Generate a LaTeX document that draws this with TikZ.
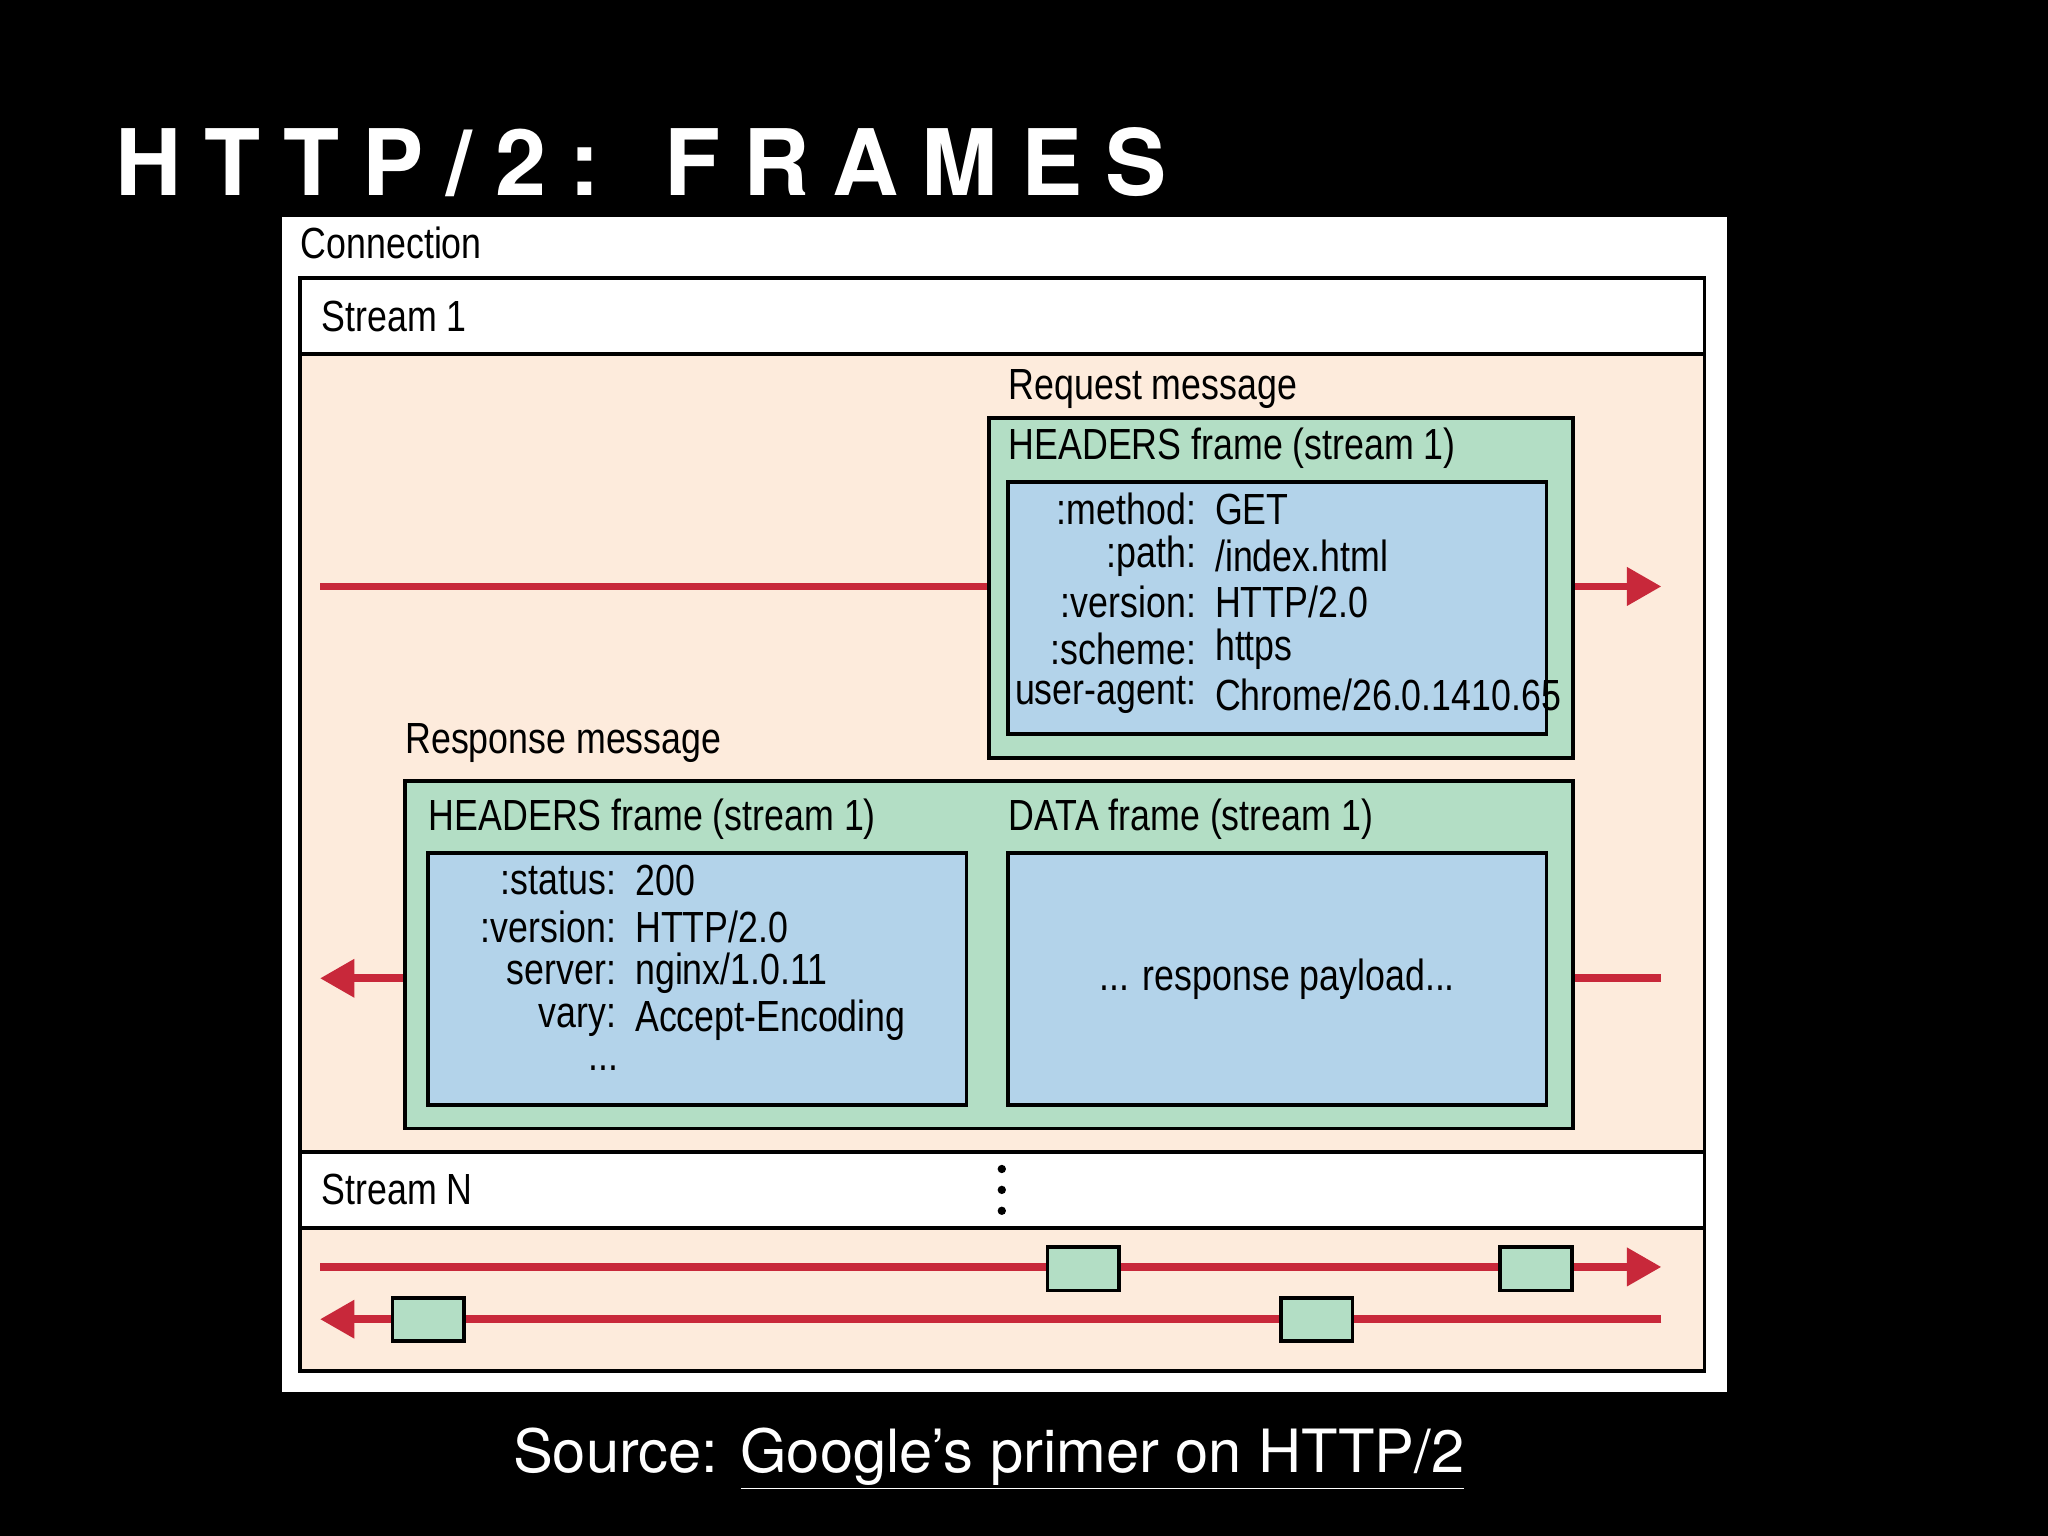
\documentclass[tikz,border=0pt]{standalone}
\usepackage{fontspec}
\setmainfont[FakeStretch=0.82]{Liberation Sans}
\newfontfamily\titlefont[LetterSpace=25]{TeX Gyre Heros}
\newfontfamily\srcfont{TeX Gyre Heros}
\usetikzlibrary{arrows.meta}
\definecolor{peach}{HTML}{FDEBDC}
\definecolor{grn}{HTML}{B3DEC5}
\definecolor{blu}{HTML}{B3D3EA}
\definecolor{rd}{HTML}{C8283A}
\tikzset{
 bx/.style={draw=black,line width=1.7pt},
 lbl/.style={anchor=west,inner sep=0pt,font=\fontsize{19}{21}\selectfont},
 key/.style={anchor=east,inner sep=0pt,font=\fontsize{19}{21}\selectfont},
 val/.style={anchor=west,inner sep=0pt,font=\fontsize{19}{21}\selectfont},
 rl/.style={draw=rd,line width=3.4pt},
 ra/.style={rl,-{Triangle[length=15pt,width=16pt]}},
 mini/.style={bx,fill=grn,minimum width=55*0.02cm,minimum height=33*0.02cm,inner sep=0pt}
}
\begin{document}
\begin{tikzpicture}[x=0.02cm,y=-0.02cm]
\fill[black] (0,0) rectangle (1568,1176);
\useasboundingbox (0,0) rectangle (1568,1176);
\node[anchor=base west,inner sep=0pt,text=white,font=\titlefont\bfseries\fontsize{40}{44}\selectfont] (title) at (88,150) {HTTP/2: FRAMES};
\fill[white] (216,166) rectangle (1322,1066);
\node[lbl] (conn) at (230,186) {Connection};
\fill[peach] (230,271) rectangle (1305,882);
\fill[peach] (230,940) rectangle (1305,1050);
\draw[bx] (230,213) rectangle (1305,1050);
\draw[bx] (230,271) -- (1305,271);
\draw[bx] (230,882) -- (1305,882);
\draw[bx] (230,940) -- (1305,940);
\node[lbl] (s1) at (246,242) {Stream 1};
\node[lbl] (sn) at (246,911) {Stream N};
\foreach \yy in {895,911,927} \fill (767,\yy) circle (3.2);
% request
\node[lbl] (reql) at (772,298) {Request message};
\node[bx,fill=grn,minimum width=447*0.02cm,minimum height=260*0.02cm,inner sep=0pt] (reqg) at (980.5,450) {};
\node[lbl] at (772,343) {HEADERS frame (stream 1)};
\node[bx,fill=blu,minimum width=412*0.02cm,minimum height=193*0.02cm,inner sep=0pt] (reqb) at (978,465.5) {};
\foreach \k/\v/\yy in {:method:/GET/390, :path:/{\slash index.html}/426, :version:/{HTTP\slash 2.0}/461, :scheme:/https/497, user-agent:/{Chrome\slash 26.0.1410.65}/532}
 {\node[key] at (916,\yy) {\k}; \node[val] at (930,\yy) {\v};}
\coordinate (r1a) at (245,449);
\coordinate (r1b) at (1272,449);
\draw[rl] (r1a) -- (reqg.west |- r1a);
\draw[ra] (reqg.east |- r1a) -- (r1b);
% response
\node[lbl] (resl) at (310,569) {Response message};
\node[bx,fill=grn,minimum width=894*0.02cm,minimum height=266*0.02cm,inner sep=0pt] (resg) at (757,731) {};
\node[lbl] at (328,627) {HEADERS frame (stream 1)};
\node[lbl] at (772,627) {DATA frame (stream 1)};
\node[bx,fill=blu,minimum width=412*0.02cm,minimum height=193*0.02cm,inner sep=0pt] (resb1) at (534,749.5) {};
\node[bx,fill=blu,minimum width=412*0.02cm,minimum height=193*0.02cm,inner sep=0pt,font=\fontsize{19}{21}\selectfont] (resb2) at (978,749.5) {... response payload...};
\foreach \k/\v/\yy in {:status:/200/674, :version:/{HTTP\slash 2.0}/710, server:/{nginx\slash 1.0.11}/745, vary:/Accept-Encoding/781}
 {\node[key] at (472,\yy) {\k}; \node[val] at (486,\yy) {\v};}
\node[inner sep=0pt,font=\fontsize{19}{21}\selectfont] at (462,818) {...};
\coordinate (r2a) at (245,749);
\coordinate (r2b) at (1272,749);
\draw[ra] (resg.west |- r2a) -- (r2a);
\draw[rl] (resg.east |- r2b) -- (r2b);
% stream N lines
\coordinate (n1a) at (245,970); \coordinate (n1b) at (1272,970);
\coordinate (n2a) at (1272,1010); \coordinate (n2b) at (245,1010);
\draw[ra] (n1a) -- (n1b);
\draw[ra] (n2a) -- (n2b);
\node[mini] (m1) at (829.5,971.5) {};
\node[mini] (m2) at (1176,971.5) {};
\node[mini] (m3) at (328,1010.5) {};
\node[mini] (m4) at (1008,1010.5) {};
\node[anchor=base,inner sep=0pt,text=white,font=\srcfont\fontsize{26}{30}\selectfont] (src) at (757,1127) {Source: \underline{Google’s primer on HTTP/2}};
\end{tikzpicture}
\end{document}
